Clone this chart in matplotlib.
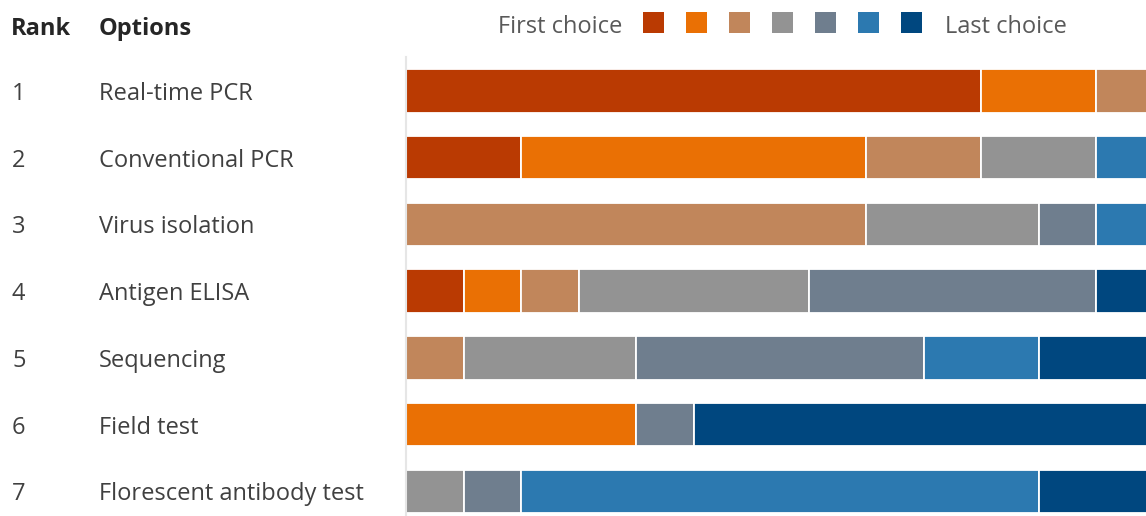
import numpy
import matplotlib.pyplot as plt
from matplotlib.patches import Rectangle
from matplotlib.transforms import blended_transform_factory, offset_copy

ranks = ['1', '2', '3', '4', '5', '6', '7']
options = ['Real-time PCR', 'Conventional PCR', 'Virus isolation', 'Antigen ELISA',
           'Sequencing', 'Field test', 'Florescent antibody test']

# number of respondents giving each option a given place, first to last choice
choice1 = [10, 2, 0, 1, 0, 0, 0]
choice2 = [2, 6, 0, 1, 0, 4, 0]
choice3 = [1, 2, 8, 1, 1, 0, 0]
choice4 = [0, 2, 3, 4, 3, 0, 1]
choice5 = [0, 0, 1, 5, 5, 1, 1]
choice6 = [0, 1, 1, 0, 2, 0, 9]
choice7 = [0, 0, 0, 1, 2, 8, 2]

colors = ['#BA3A02', '#EA7004', '#C1865B', '#939393', '#6F7E8E', '#2C79B0', '#00477F']

W, H = 1146, 516
FS = 17

def px(x, y):
  return x / W, 1 - y / H

plt.rcParams['font.family'] = ['Open Sans', 'DejaVu Sans']
fig = plt.figure(figsize=(W / 100, H / 100), dpi=100)

ax = fig.add_axes([406 / W, 0, 747.5 / W, (H - 57) / H])
choices = [choice1, choice2, choice3, choice4, choice5, choice6, choice7]
ys = numpy.arange(len(options))
left = numpy.zeros(len(options))
for vals, col in zip(choices, colors):
  vals = numpy.array(vals, dtype=float)
  ax.barh(ys, vals, left=left, height=0.65, color=col, edgecolor='white', linewidth=1.3)
  left += vals

# every row adds up to the same number of respondents
ax.set_xlim(0, left.max())
ax.set_ylim(6.37, -0.51)
ax.set_xticks([])
ax.set_yticks([])
for s in ['top', 'right', 'bottom']:
  ax.spines[s].set_visible(False)
ax.spines['left'].set_color('#E6E6E6')
ax.spines['left'].set_linewidth(1.5)

# row labels on the left, following the bar positions
tr = blended_transform_factory(fig.transFigure, ax.transData)
tr = offset_copy(tr, fig=fig, x=0, y=-3, units='dots')
for i, (r, name) in enumerate(zip(ranks, options)):
  ax.text(12 / W, i, r, transform=tr, ha='left', va='center', fontsize=FS, color='#404040', clip_on=False)
  ax.text(99 / W, i, name, transform=tr, ha='left', va='center', fontsize=FS, color='#404040', clip_on=False)

fig.text(*px(11, 35), 'Rank', ha='left', va='baseline', fontsize=FS, fontweight='bold', color='#262626')
fig.text(*px(99, 35), 'Options', ha='left', va='baseline', fontsize=FS, fontweight='bold', color='#262626')

# legend strip
fig.text(*px(622, 33), 'First choice', ha='right', va='baseline', fontsize=FS, color='#595959')
fig.text(*px(945, 33), 'Last choice', ha='left', va='baseline', fontsize=FS, color='#595959')
for i, col in enumerate(colors):
  x0, y0 = px(643 + 43 * i, 33)
  fig.patches.append(Rectangle((x0, y0), 21 / W, 21 / H, transform=fig.transFigure,
                               facecolor=col, edgecolor='none'))

fig.savefig('out.png', dpi=100)
